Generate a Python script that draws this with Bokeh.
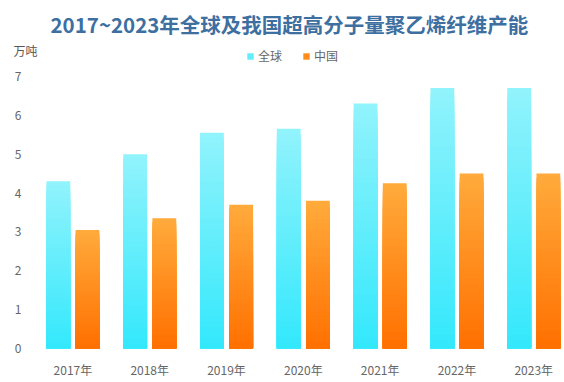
from bokeh.plotting import figure
from bokeh.models import (Range1d, FixedTicker, ColumnDataSource, Legend, LegendItem, Title)
from bokeh.embed import file_html
from bokeh.resources import INLINE

years = ["2017年", "2018年", "2019年", "2020年", "2021年", "2022年", "2023年"]
global_cap = [4.3, 5.0, 5.55, 5.65, 6.3, 6.7, 6.7]
china_cap = [3.05, 3.35, 3.7, 3.8, 4.25, 4.5, 4.5]
series_names = ["全球", "中国"]
y_ticks = [0, 1, 2, 3, 4, 5, 6, 7]
unit_label = "万吨"
title_text = "2017~2023年全球及我国超高分子量聚乙烯纤维产能"

FONT = "Noto Sans CJK SC"
N_SEG = 40


def hex2rgb(h):
    h = h.lstrip("#")
    return tuple(int(h[i:i + 2], 16) for i in (0, 2, 4))


def lerp(c1, c2, t):
    a, b = hex2rgb(c1), hex2rgb(c2)
    return "#%02x%02x%02x" % tuple(int(round(a[i] + (b[i] - a[i]) * t)) for i in range(3))


def gradient_source(values, offset, width, bottom_color, top_color):
    # overlapping quads, tallest first, so that the gradient has no seams
    left, right, bottom, top, color = [], [], [], [], []
    for i, v in enumerate(values):
        for k in range(N_SEG, 0, -1):
            left.append(i + offset - width / 2)
            right.append(i + offset + width / 2)
            bottom.append(0)
            top.append(v * k / N_SEG)
            color.append(lerp(bottom_color, top_color, (k - 0.5) / N_SEG))
    return ColumnDataSource(dict(left=left, right=right, bottom=bottom, top=top, color=color))


p = figure(width=564, height=382, output_backend="svg", toolbar_location=None, title=None,
           x_range=Range1d(-0.5, 6.4), y_range=Range1d(0, 7.82),
           min_border_top=20, min_border_bottom=34, min_border_left=34, min_border_right=0)
p.outline_line_color = None
p.xgrid.grid_line_color = None
p.ygrid.grid_line_color = None
p.background_fill_color = "white"
p.border_fill_color = "white"

bw = 0.31
off = 0.19
src_g = gradient_source(global_cap, -off, bw, "#33e8fc", "#92f3fc")
src_c = gradient_source(china_cap, off, bw, "#ff7000", "#ffab3c")
r_g = p.quad(left="left", right="right", bottom="bottom", top="top", fill_color="color",
             line_color=None, source=src_g)
r_c = p.quad(left="left", right="right", bottom="bottom", top="top", fill_color="color",
             line_color=None, source=src_c)

for ax in (p.xaxis[0], p.yaxis[0]):
    ax.axis_line_color = None
    ax.major_tick_line_color = None
    ax.minor_tick_line_color = None
    ax.major_tick_out = 0
    ax.major_tick_in = 0
    ax.minor_tick_out = 0
    ax.minor_tick_in = 0
    ax.major_label_text_font = FONT
    ax.major_label_text_font_size = "12px"
    ax.major_label_text_color = "#666666"

p.xaxis.ticker = FixedTicker(ticks=list(range(len(years))))
p.xaxis.major_label_overrides = {i: y for i, y in enumerate(years)}
p.xaxis.major_label_standoff = 12
p.yaxis.ticker = FixedTicker(ticks=y_ticks)
p.yaxis.major_label_standoff = 13

legend = Legend(items=[LegendItem(label=series_names[0], renderers=[r_g], index=N_SEG // 2),
                       LegendItem(label=series_names[1], renderers=[r_c], index=N_SEG // 2)],
                orientation="horizontal", location=(212, 284),
                glyph_width=8, glyph_height=8, label_standoff=4, spacing=20,
                padding=0, margin=0, border_line_color=None, background_fill_alpha=0,
                label_text_font=FONT, label_text_font_size="12px", label_text_color="#666666")
p.add_layout(legend, "center")

p.add_layout(Title(text=unit_label, align="left", offset=-21, standoff=-29,
                   text_font=FONT, text_font_size="12px", text_font_style="normal",
                   text_color="#555555"), "above")
p.add_layout(Title(text=title_text, align="left", offset=16, standoff=12,
                   text_font=FONT, text_font_size="20.5px", text_font_style="bold",
                   text_line_height=1.0, text_color="#3e6fa1"), "above")

open("out.html", "w").write(file_html(p, INLINE))
